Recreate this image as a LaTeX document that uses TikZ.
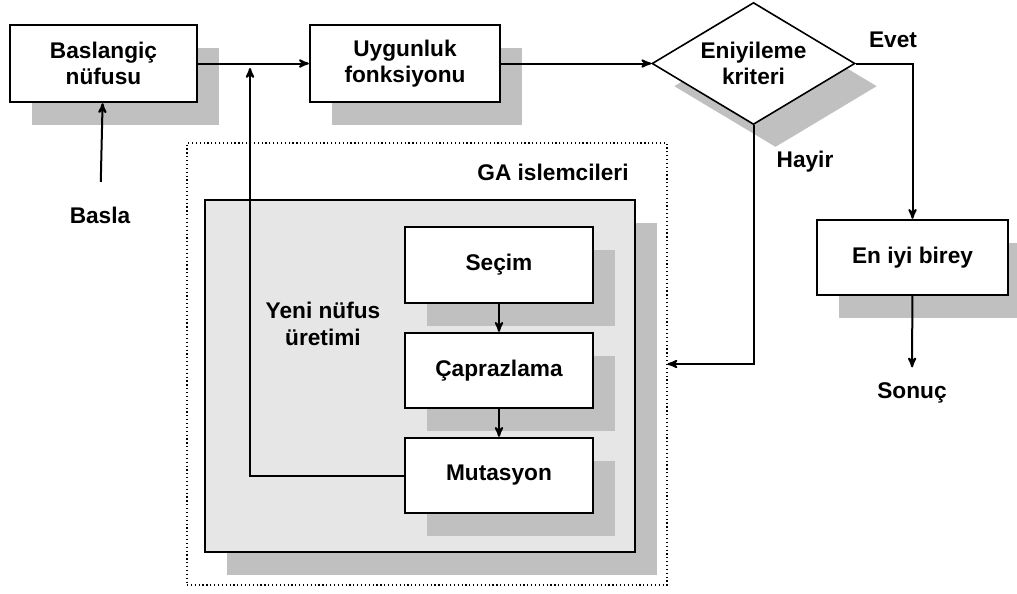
\documentclass[tikz,border=0pt]{standalone}
\usepackage{fontspec}
\setmainfont{Liberation Sans}
\usetikzlibrary{arrows}
\usetikzlibrary{shapes.geometric,shadows}
\definecolor{golgegri}{RGB}{192,192,192}
\definecolor{zemingri}{RGB}{230,230,230}

\begin{document}
\begin{tikzpicture}[x=.75pt, y=-.75pt,
  font=\fontsize{17}{20}\selectfont\bfseries,
  golge/.style={general shadow={fill=golgegri, shadow xshift=16.5pt, shadow yshift=-17pt}},
  blok/.style={draw, line width=1.8pt, fill=white, align=center, inner sep=0pt, golge},
  karar/.style={diamond, draw, line width=1.2pt, fill=white, align=center, inner sep=0pt, aspect=1.66, golge},
  ok/.style={line width=1.5pt, ->, >=stealth'},
]
\useasboundingbox (0,0) rectangle (1017,593);
% GA islemcileri
\node[draw, dotted, line width=.9pt, minimum width=360pt, minimum height=331.5pt] (ga) at (427,364) {};
\node (gayaz) at (553,172) {GA islemcileri};
\node[draw, line width=1.8pt, fill=zemingri, inner sep=0pt, minimum width=322.5pt, minimum height=264pt, golge] (yeni) at (420,376) {};
\node[align=center] (yeniyaz) at (323,324) {Yeni nüfus\\üretimi};
\node[blok, minimum width=141pt, minimum height=57pt] (sec) at (499,265) {Seçim};
\node[blok, minimum width=141pt, minimum height=56.25pt] (cap) at (499,370.5) {Çaprazlama};
\node[blok, minimum width=141pt, minimum height=56.25pt] (mut) at (499,475.5) {Mutasyon};
% ust sira
\node[blok, minimum width=140.25pt, minimum height=57.75pt] (bas) at (103.5,63.5) {Baslangiç\\nüfusu};
\node[blok, minimum width=142.5pt, minimum height=57.75pt] (uyg) at (405,63.5) {Uygunluk\\fonksiyonu};
\node[karar, minimum width=152.25pt, minimum height=91.5pt] (kri) at (753.5,63.5) {Eniyileme\\kriteri};
\node[blok, minimum width=143.25pt, minimum height=56.25pt] (eni) at (912.5,257.5) {En iyi birey};
% etiketler
\node (basla) at (100,215) {Basla};
\node (son) at (912,393) {Sonuç};
\node (evet) at (893,40) {Evet};
\node (hayir) at (805,162) {Hayir};
\coordinate (don) at (250,68);
% oklar
\draw[ok, shorten <=15pt] (basla) -- (bas);
\draw[ok] (bas) -- (uyg);
\draw[ok] (uyg) -- (kri);
\draw[ok] (kri.east) -| (eni.north);
\draw[ok] (kri.south) |- (ga.east);
\draw[ok, shorten >=8pt] (eni) -- (son);
\draw[ok] (sec) -- (cap);
\draw[ok] (cap) -- (mut);
\draw[ok] (mut.west) -| (don);
\end{tikzpicture}
\end{document}
